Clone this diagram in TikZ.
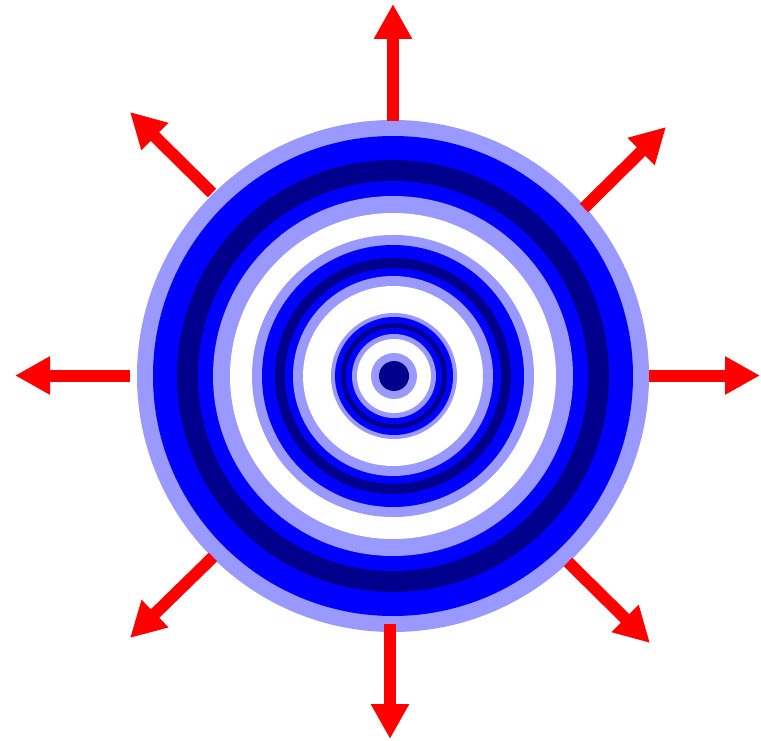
\documentclass[tikz,border=0pt]{standalone}
\usetikzlibrary{arrows.meta}
\definecolor{ringlight}{RGB}{153,153,255}
\definecolor{ringblue}{RGB}{0,0,255}
\definecolor{ringdark}{RGB}{0,0,140}
\definecolor{arrowred}{RGB}{255,0,0}
\tikzset{
  ray/.style={draw=arrowred, line width=12pt, -{Triangle[length=35pt,width=36pt]}},
}
\begin{document}
\begin{tikzpicture}[x=1pt,y=-1pt]
\useasboundingbox[fill=white] (0,0) rectangle (761,741);
\coordinate (c) at (393,376);
\coordinate (ci) at (394,376);
\foreach \r/\col in {256/ringlight,240/ringblue,216/ringdark,195/ringblue,180/ringlight,163/white,141/ringlight,131/ringblue,118/ringdark,108/ringblue,100/ringlight,90/white}{
  \fill[\col] (c) circle[radius=\r];
}
\foreach \r/\col in {63/ringlight,59/ringblue,53/ringdark,48/ringblue,42/ringlight,37/white,23/ringlight,15/ringdark}{
  \fill[\col] (ci) circle[radius=\r];
}
% arrow ends
\coordinate (nT) at (393,121); \coordinate (nH) at (393,4);
\coordinate (sT) at (390,624); \coordinate (sH) at (390,739);
\coordinate (wT) at (130,375.5); \coordinate (wH) at (15,375.5);
\coordinate (eT) at (649,375.5); \coordinate (eH) at (760,375.5);
\coordinate (neT) at (584,208); \coordinate (neH) at (666,127);
\coordinate (nwT) at (212,193); \coordinate (nwH) at (130,112);
\coordinate (swT) at (213,557); \coordinate (swH) at (130,638);
\coordinate (seT) at (568,562); \coordinate (seH) at (650,643);
\foreach \d in {n,s,w,e,ne,nw,sw,se}{
  \draw[ray] (\d T) -- (\d H);
}
\end{tikzpicture}
\end{document}
